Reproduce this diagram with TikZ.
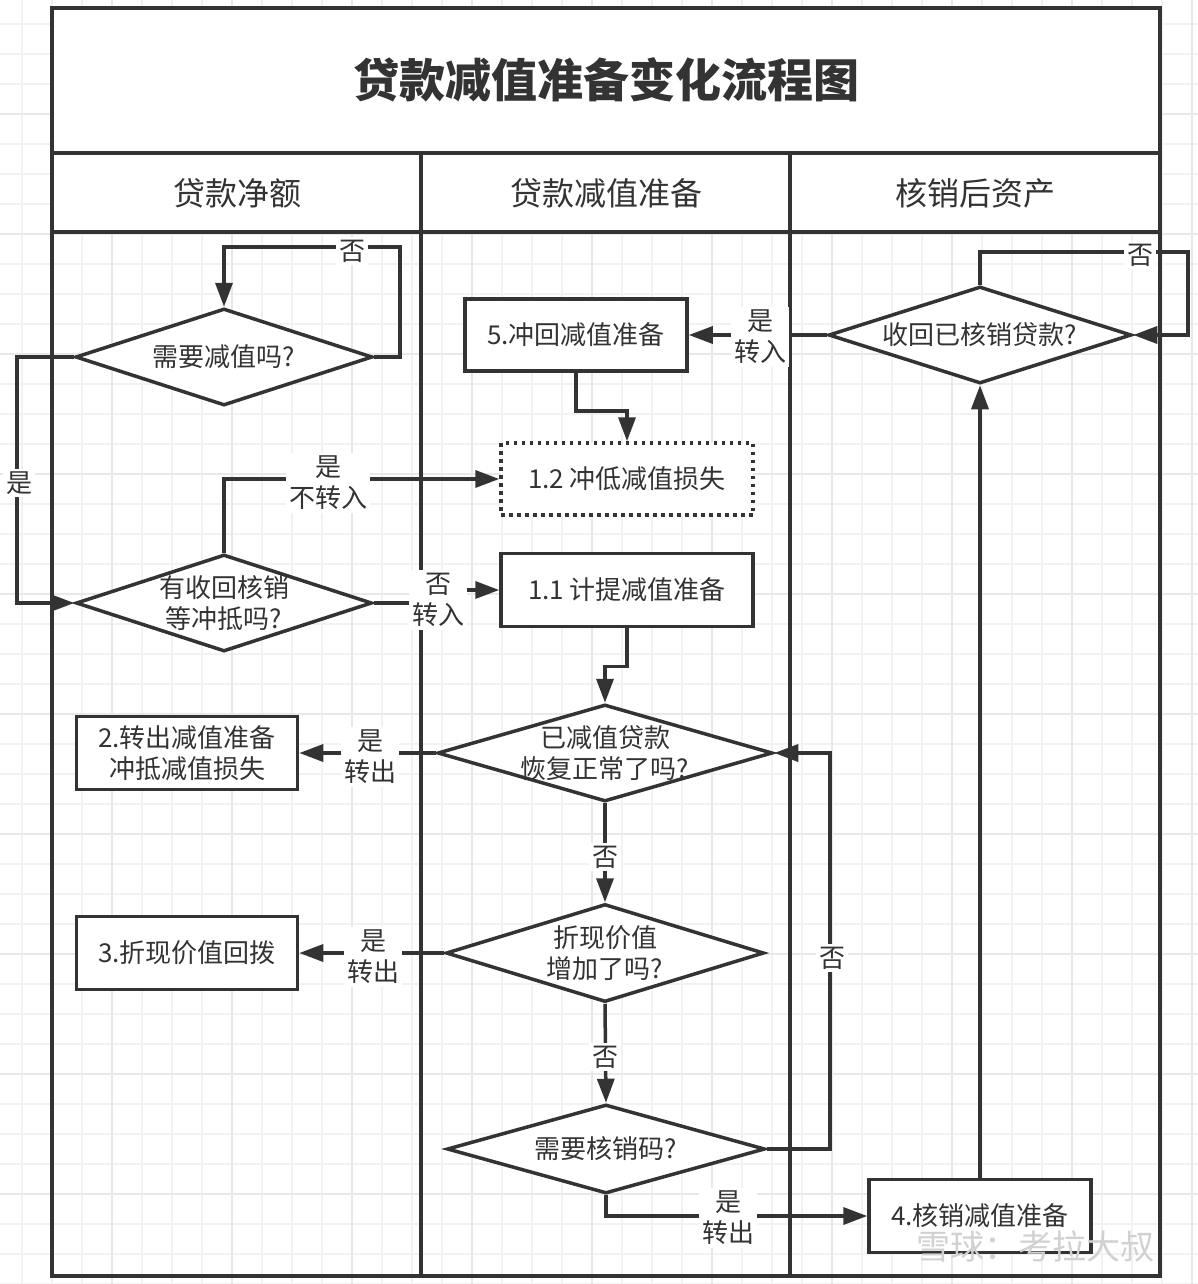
\documentclass[tikz,border=0pt]{standalone}
\usepackage{fontspec}
\setmainfont{Noto Sans CJK SC}
\usetikzlibrary{shapes.geometric,arrows.meta,calc}
\definecolor{ink}{HTML}{333333}
\definecolor{gminor}{HTML}{F2F2F2}
\definecolor{gmajor}{HTML}{E8E8E8}
\newcommand\bodyfont{\fontsize{26}{31}\selectfont}
\newcommand\hdrfont{\fontsize{32}{32}\selectfont}
\newcommand\ttlfont{\fontsize{46}{46}\selectfont\bfseries}
\begin{document}
\begin{tikzpicture}[x=1pt,y=-1pt,
  every node/.style={text=ink},
  lane/.style={draw=ink, line width=3.5pt},
  conn/.style={draw=ink, line width=3.5pt, -{Triangle[length=24pt,width=17pt]}},
  box/.style={rectangle, draw=ink, line width=3.5pt, fill=white, font=\bodyfont, align=center, inner sep=0pt},
  dottedbox/.style={box, dash pattern=on 3.5pt off 4.5pt},
  dia/.style={diamond, draw=ink, line width=3.5pt, fill=white, inner sep=0pt},
  diatext/.style={font=\bodyfont, align=center, text=ink},
  lbl/.style={fill=white, font=\bodyfont, align=center, inner sep=3pt},
  gridminor/.style={draw=gminor, line width=1.5pt},
  gridmajor/.style={draw=gmajor, line width=2pt},
]
\useasboundingbox (0,0) rectangle (1198,1284);
\fill[white] (0,0) rectangle (1198,1284);
% grid
\foreach \gx in {22,52,...,1192} \draw[gridminor] (\gx,0) -- (\gx,1284);
\foreach \gy in {24,54,...,1284} \draw[gridminor] (0,\gy) -- (1198,\gy);
\foreach \gx in {112,232,...,1192} \draw[gridmajor] (\gx,0) -- (\gx,1284);
\foreach \gy in {114,234,...,1284} \draw[gridmajor] (0,\gy) -- (1198,\gy);

% pool
\fill[white] (52,8) rectangle (1160,232);
\draw[lane] (52,8) rectangle (1160,1276);
\draw[lane] (52,153) -- (1160,153);
\draw[lane] (52,232) -- (1160,232);
\draw[lane] (421,153) -- (421,1276);
\draw[lane] (790,153) -- (790,1276);
\node[font=\ttlfont] (title) at (606,80) {贷款减值准备变化流程图};
\node[font=\hdrfont] (h1) at (237,193) {贷款净额};
\node[font=\hdrfont] (h2) at (606,193) {贷款减值准备};
\node[font=\hdrfont] (h3) at (975,193) {核销后资产};

% nodes
\node[dia, minimum width=297pt, minimum height=97pt,
  label={[diatext]center:需要减值吗?}] (d1) at (224,357) {};
\node[dia, minimum width=296pt, minimum height=97pt,
  label={[diatext]center:有收回核销\\等冲抵吗?}] (d2) at (224,603) {};
\node[dia, minimum width=335pt, minimum height=97pt,
  label={[diatext]center:已减值贷款\\恢复正常了吗?}] (d3) at (605,753) {};
\node[dia, minimum width=318pt, minimum height=98pt,
  label={[diatext]center:折现价值\\增加了吗?}] (d4) at (605,953) {};
\node[dia, minimum width=318pt, minimum height=89pt,
  label={[diatext]center:需要核销码?}] (d5) at (606,1149) {};
\node[dia, minimum width=303pt, minimum height=97pt,
  label={[diatext]center:收回已核销贷款?}] (d6) at (980,335) {};

\node[box, minimum width=222pt, minimum height=72pt] (b5) at (576,335) {5.冲回减值准备};
\node[dottedbox, minimum width=252pt, minimum height=72pt] (b12) at (627,479) {1.2 冲低减值损失};
\node[box, minimum width=252pt, minimum height=73pt] (b11) at (627,590) {1.1 计提减值准备};
\node[box, minimum width=221pt, minimum height=73pt] (b2) at (187,753) {2.转出减值准备\\冲抵减值损失};
\node[box, minimum width=221pt, minimum height=73pt] (b3) at (187,953) {3.折现价值回拨};
\node[box, minimum width=222pt, minimum height=73pt] (b4) at (980,1216) {4.核销减值准备};

% connectors
\draw[conn] (d1.east) -- (400,357) -- (400,247) -- (224,247) -- (d1.north);
\draw[conn] (d1.west) -- (17,357) |- (d2.west);
\draw[conn] (d2.north) |- (b12.west);
\draw[conn] (d2.east) -- (440,603) -- (440,590) -- (b11.west);
\draw[conn] (b5.south) -- ++(0,38) -| (b12.north);
\draw[conn] (b11.south) -- ++(0,38) -| (d3.north);
\draw[conn] (d3.west) -- (b2.east);
\draw[conn] (d3.south) -- (d4.north);
\draw[conn] (d4.west) -- (b3.east);
\draw[conn] (d4.south) -- (d5.north);
\draw[conn] (d5.east) -- (830,1149) |- (d3.east);
\draw[conn] (d5.south) |- (b4.west);
\draw[conn] (b4.north) -- (d6.south);
\draw[conn] (d6.west) -- (b5.east);
\draw[conn] (d6.north) -- (980,252) -- (1188,252) -- (1188,335) -- (d6.east);

% labels
\node[lbl] (l1) at (352,251) {否};
\node[lbl] (l2) at (19,483) {是};
\node[lbl] (l3) at (328,483) {是\\不转入};
\node[lbl] (l4) at (438,600) {否\\转入};
\node[lbl] (l5) at (760,337) {是\\转入};
\node[lbl] (l6) at (1140,255) {否};
\node[lbl] (l7) at (370,757) {是\\转出};
\node[lbl] (l8) at (605,857) {否};
\node[lbl] (l9) at (373,957) {是\\转出};
\node[lbl] (l10) at (605,1057) {否};
\node[lbl] (l11) at (832,958) {否};
\node[lbl] (l12) at (728,1218) {是\\转出};

% watermark
\node[text=black!18, font=\fontsize{34}{34}\selectfont] (wm) at (1035,1246) {雪球：考拉大叔};
\end{tikzpicture}
\end{document}
